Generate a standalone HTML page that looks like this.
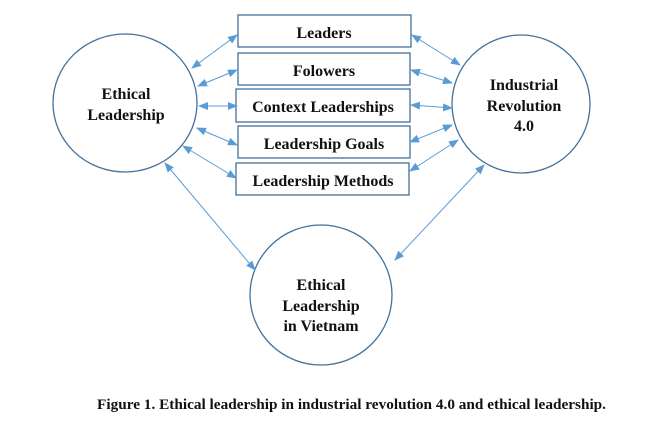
<!DOCTYPE html>
<html><head><style>
body{margin:0;background:#fff}
svg text{font-family:"Liberation Serif",serif;font-weight:bold}
</style></head><body>
<svg width="670" height="421" viewBox="0 0 670 421" xmlns="http://www.w3.org/2000/svg">
<defs>
<marker id="a" markerWidth="10" markerHeight="8" refX="9" refY="4" orient="auto-start-reverse" markerUnits="userSpaceOnUse">
<path d="M0,0 L10,4 L0,8 z" fill="#5b9bd5"/></marker>
</defs>
<g fill="#fff" stroke="#41719c" stroke-width="1.3">
<ellipse cx="125" cy="103" rx="72" ry="69"/>
<ellipse cx="521" cy="104" rx="69" ry="69"/>
<ellipse cx="321" cy="295" rx="71" ry="70"/>
<rect x="238" y="15" width="173" height="32"/>
<rect x="238" y="53" width="172" height="32"/>
<rect x="236" y="89" width="174" height="33"/>
<rect x="238" y="126" width="172" height="32"/>
<rect x="236" y="163" width="173" height="32"/>
</g>
<g stroke="#5b9bd5" stroke-width="1" marker-start="url(#a)" marker-end="url(#a)">
<line x1="192" y1="68" x2="237" y2="35"/>
<line x1="198" y1="86" x2="237" y2="70"/>
<line x1="199" y1="106" x2="237" y2="106"/>
<line x1="197" y1="128" x2="237" y2="145"/>
<line x1="183" y1="146" x2="236" y2="178"/>
<line x1="165" y1="163" x2="255" y2="270"/>
<line x1="412" y1="35" x2="460" y2="65"/>
<line x1="411" y1="70" x2="452" y2="83"/>
<line x1="411" y1="105" x2="452" y2="108"/>
<line x1="410" y1="142" x2="452" y2="125"/>
<line x1="410" y1="171" x2="458" y2="140"/>
<line x1="484" y1="165" x2="395" y2="260"/>
</g>
<g font-size="16" text-anchor="middle" fill="#111">
<text x="126" y="99">Ethical</text>
<text x="126" y="120">Leadership</text>
<text x="524" y="90">Industrial</text>
<text x="524" y="111">Revolution</text>
<text x="524" y="131">4.0</text>
<text x="321" y="290">Ethical</text>
<text x="321" y="311">Leadership</text>
<text x="321" y="331">in Vietnam</text>
<text x="324" y="38">Leaders</text>
<text x="324" y="76">Folowers</text>
<text x="323" y="112">Context Leaderships</text>
<text x="324" y="149">Leadership Goals</text>
<text x="323" y="186">Leadership Methods</text>
</g>
<text x="97" y="409" font-size="14.5" textLength="509" lengthAdjust="spacingAndGlyphs" fill="#111">Figure 1. Ethical leadership in industrial revolution 4.0 and ethical leadership.</text>
</svg>
</body></html>
